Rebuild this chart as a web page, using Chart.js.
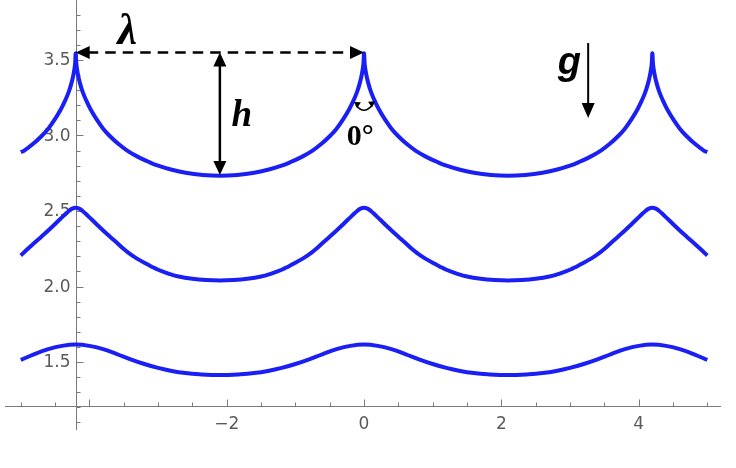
<!DOCTYPE html>
<html>
<head>
<meta charset="utf-8">
<script src="https://cdn.jsdelivr.net/npm/chart.js@4.4.1/dist/chart.umd.min.js"></script>
<style>
  html, body { margin: 0; padding: 0; background: #fff; }
  #wrap { width: 736px; height: 468px; }
</style>
</head>
<body>
<div id="wrap"><canvas id="waveChart" width="736" height="468"></canvas></div>
<script>
// wave profiles (x, surface height)
const topX = [-5.0, -4.95, -4.82, -4.7, -4.6, -4.5, -4.42, -4.35, -4.3, -4.26, -4.23, -4.21, -4.2,
  -4.19, -4.17, -4.14, -4.1, -4.05, -3.98, -3.9, -3.8, -3.7, -3.58, -3.45, -3.3, -3.15, -3.0, -2.8, -2.6, -2.35, -2.1,
  -1.85, -1.6, -1.4, -1.2, -1.05, -0.9, -0.75, -0.62, -0.5, -0.4, -0.3, -0.22, -0.15, -0.1, -0.06, -0.03, -0.01, 0,
  0.01, 0.03, 0.06, 0.1, 0.15, 0.22, 0.3, 0.4, 0.5, 0.62, 0.75, 0.9, 1.05, 1.2, 1.4, 1.6, 1.85, 2.1,
  2.35, 2.6, 2.8, 3.0, 3.15, 3.3, 3.45, 3.58, 3.7, 3.8, 3.9, 3.98, 4.05, 4.1, 4.14, 4.17, 4.19, 4.2,
  4.21, 4.23, 4.26, 4.3, 4.35, 4.42, 4.5, 4.6, 4.7, 4.82, 4.95, 5.0];
const topY = [2.89, 2.90, 2.945, 2.995, 3.045, 3.11, 3.17, 3.235, 3.29, 3.35, 3.41, 3.47, 3.545,
  3.47, 3.41, 3.35, 3.29, 3.235, 3.17, 3.11, 3.045, 2.995, 2.945, 2.90, 2.86, 2.828, 2.800, 2.773, 2.753, 2.739, 2.734,
  2.739, 2.753, 2.773, 2.800, 2.828, 2.86, 2.90, 2.945, 2.995, 3.045, 3.11, 3.17, 3.235, 3.29, 3.35, 3.41, 3.47, 3.545,
  3.47, 3.41, 3.35, 3.29, 3.235, 3.17, 3.11, 3.045, 2.995, 2.945, 2.90, 2.86, 2.828, 2.800, 2.773, 2.753, 2.739, 2.734,
  2.739, 2.753, 2.773, 2.800, 2.828, 2.86, 2.90, 2.945, 2.995, 3.045, 3.11, 3.17, 3.235, 3.29, 3.35, 3.41, 3.47, 3.545,
  3.47, 3.41, 3.35, 3.29, 3.235, 3.17, 3.11, 3.045, 2.995, 2.945, 2.90, 2.89];

const midX = [-5.0, -4.9, -4.8, -4.7, -4.6, -4.5, -4.4, -4.35, -4.3, -4.25, -4.2,
  -4.15, -4.1, -4.05, -4.0, -3.9, -3.8, -3.7, -3.6, -3.5, -3.4, -3.3, -3.2, -3.1, -3.0, -2.85, -2.7, -2.5, -2.3, -2.1,
  -1.9, -1.7, -1.5, -1.35, -1.2, -1.1, -1.0, -0.9, -0.8, -0.7, -0.6, -0.5, -0.4, -0.3, -0.2, -0.15, -0.1, -0.05, 0,
  0.05, 0.1, 0.15, 0.2, 0.3, 0.4, 0.5, 0.6, 0.7, 0.8, 0.9, 1.0, 1.1, 1.2, 1.35, 1.5, 1.7, 1.9, 2.1,
  2.3, 2.5, 2.7, 2.85, 3.0, 3.1, 3.2, 3.3, 3.4, 3.5, 3.6, 3.7, 3.8, 3.9, 4.0, 4.05, 4.1, 4.15, 4.2,
  4.25, 4.3, 4.35, 4.4, 4.5, 4.6, 4.7, 4.8, 4.9, 5.0];
const midY = [2.205, 2.248, 2.290, 2.330, 2.371, 2.414, 2.458, 2.48, 2.50, 2.516, 2.522,
  2.516, 2.50, 2.48, 2.458, 2.414, 2.371, 2.330, 2.290, 2.248, 2.212, 2.183, 2.157, 2.133, 2.111, 2.086, 2.066, 2.051, 2.043, 2.040,
  2.043, 2.051, 2.066, 2.086, 2.111, 2.133, 2.157, 2.183, 2.212, 2.248, 2.290, 2.330, 2.371, 2.414, 2.458, 2.48, 2.50, 2.516, 2.522,
  2.516, 2.50, 2.48, 2.458, 2.414, 2.371, 2.330, 2.290, 2.248, 2.212, 2.183, 2.157, 2.133, 2.111, 2.086, 2.066, 2.051, 2.043, 2.040,
  2.043, 2.051, 2.066, 2.086, 2.111, 2.133, 2.157, 2.183, 2.212, 2.248, 2.290, 2.330, 2.371, 2.414, 2.458, 2.48, 2.50, 2.516, 2.522,
  2.516, 2.50, 2.48, 2.458, 2.414, 2.371, 2.330, 2.290, 2.248, 2.205];

const lowX = [-5.0, -4.8, -4.6, -4.4, -4.2, -4.0, -3.8, -3.6, -3.4, -3.2, -3.0, -2.8, -2.6, -2.4, -2.1,
  -1.8, -1.6, -1.4, -1.2, -1.0, -0.8, -0.6, -0.4, -0.2, 0,
  0.2, 0.4, 0.6, 0.8, 1.0, 1.2, 1.4, 1.6, 1.8, 2.1,
  2.4, 2.6, 2.8, 3.0, 3.2, 3.4, 3.6, 3.8, 4.0, 4.2, 4.4, 4.6, 4.8, 5.0];
const lowY = [1.514, 1.553, 1.585, 1.607, 1.616, 1.607, 1.585, 1.553, 1.518, 1.487, 1.461, 1.441, 1.427, 1.419, 1.414,
  1.419, 1.427, 1.441, 1.461, 1.487, 1.518, 1.553, 1.585, 1.607, 1.616,
  1.607, 1.585, 1.553, 1.518, 1.487, 1.461, 1.441, 1.427, 1.419, 1.414,
  1.419, 1.427, 1.441, 1.461, 1.487, 1.518, 1.553, 1.585, 1.607, 1.616, 1.607, 1.585, 1.553, 1.514];

// axes
const xTickMajor = [-4, -2, 0, 2, 4];
const xTickLabels = ['', '\u22122', '0', '2', '4'];
const yTickMajor = [1.5, 2.0, 2.5, 3.0, 3.5];
const yTickLabels = ['1.5', '2.0', '2.5', '3.0', '3.5'];
const axisCross = { x: -4.2, y: 1.21 };

const toPts = (xs, ys) => xs.map((x, i) => ({ x: x, y: ys[i] }));

function arrowHead(ctx, tx, ty, ang, len, half) {
    ctx.beginPath();
    ctx.moveTo(tx, ty);
    ctx.lineTo(tx - len * Math.cos(ang) + half * Math.sin(ang), ty - len * Math.sin(ang) - half * Math.cos(ang));
    ctx.lineTo(tx - len * Math.cos(ang) - half * Math.sin(ang), ty - len * Math.sin(ang) + half * Math.cos(ang));
    ctx.closePath();
    ctx.fill();
}

const mmaAxes = {
    id: 'mmaAxes',
    beforeDatasetsDraw(chart) {
        const ctx = chart.ctx, xs = chart.scales.x, ys = chart.scales.y, area = chart.chartArea;
        const ax = Math.round(xs.getPixelForValue(axisCross.x)) + 0.5;
        const ay = Math.round(ys.getPixelForValue(axisCross.y)) + 0.5;
        ctx.save();
        ctx.strokeStyle = '#7a7a7a';
        ctx.lineWidth = 1;
        ctx.beginPath();
        ctx.moveTo(area.left, ay); ctx.lineTo(area.right, ay);
        ctx.moveTo(ax, area.top); ctx.lineTo(ax, area.bottom);
        ctx.stroke();
        // x ticks every 0.5
        ctx.beginPath();
        for (let k = -10; k <= 10; k++) {
            const v = k / 2;
            const px = Math.round(xs.getPixelForValue(v)) + 0.5;
            const len = xTickMajor.includes(v) ? 7 : 4;
            ctx.moveTo(px, ay); ctx.lineTo(px, ay - len);
        }
        // y ticks every 0.1
        for (let k = 11; k <= 38; k++) {
            const v = k / 10;
            const py = Math.round(ys.getPixelForValue(v)) + 0.5;
            const len = (k % 5 === 0) ? 7 : 4;
            ctx.moveTo(ax, py); ctx.lineTo(ax + len, py);
        }
        ctx.stroke();
        ctx.fillStyle = '#5a5a5a';
        ctx.font = '17px "DejaVu Sans", sans-serif';
        ctx.textAlign = 'center';
        ctx.textBaseline = 'top';
        xTickMajor.forEach((v, i) => {
            if (xTickLabels[i]) ctx.fillText(xTickLabels[i], xs.getPixelForValue(v), ay + 10);
        });
        ctx.textAlign = 'right';
        ctx.textBaseline = 'middle';
        yTickMajor.forEach((v, i) => {
            ctx.fillText(yTickLabels[i], ax - 6, ys.getPixelForValue(v) + 1);
        });
        ctx.restore();
    },
    afterDatasetsDraw(chart) {
        const ctx = chart.ctx, xs = chart.scales.x, ys = chart.scales.y;
        const X = v => xs.getPixelForValue(v), Y = v => ys.getPixelForValue(v);
        ctx.save();
        ctx.fillStyle = '#000';
        ctx.strokeStyle = '#000';

        // lambda: dashed, arrows at both ends
        const ly = Y(3.55), l0 = X(-4.2), l1 = X(0);
        ctx.lineWidth = 2.5;
        ctx.setLineDash([10.5, 7]);
        ctx.beginPath(); ctx.moveTo(l0 + 12, ly); ctx.lineTo(l1 - 12, ly); ctx.stroke();
        ctx.setLineDash([]);
        arrowHead(ctx, l0, ly, Math.PI, 14, 6.5);
        arrowHead(ctx, l1, ly, 0, 14, 6.5);

        // h: solid vertical double arrow
        const hx = X(-2.1), h0 = Y(3.55), h1 = Y(2.738);
        ctx.lineWidth = 2.5;
        ctx.beginPath(); ctx.moveTo(hx, h0 + 10); ctx.lineTo(hx, h1 - 10); ctx.stroke();
        arrowHead(ctx, hx, h0, -Math.PI / 2, 14, 6.5);
        arrowHead(ctx, hx, h1, Math.PI / 2, 14, 6.5);

        // g arrow
        const gx = X(3.265), g0 = Y(3.612), g1 = Y(3.116);
        ctx.lineWidth = 2;
        ctx.beginPath(); ctx.moveTo(gx, g0); ctx.lineTo(gx, g1 - 10); ctx.stroke();
        arrowHead(ctx, gx, g1, Math.PI / 2, 15, 6.5);

        // small angle arc at the cusp
        const a0x = X(-0.146), a0y = Y(3.222), a1x = X(0.16), a1y = Y(3.226);
        const cx = X(0.004), cy = Y(3.13);
        ctx.lineWidth = 1.6;
        ctx.beginPath(); ctx.moveTo(a0x + 2, a0y + 3); ctx.quadraticCurveTo(cx, cy, a1x - 2, a1y + 3); ctx.stroke();
        arrowHead(ctx, a0x, a0y, Math.atan2(a0y - cy, a0x - cx) - 0.35, 6, 3.5);
        arrowHead(ctx, a1x, a1y, Math.atan2(a1y - cy, a1x - cx) + 0.35, 6, 3.5);

        // labels
        ctx.textBaseline = 'alphabetic';
        ctx.textAlign = 'center';
        ctx.font = 'bold italic 44px "Liberation Serif", serif';
        ctx.fillText('\u03bb', X(-3.45), Y(3.605));
        ctx.textAlign = 'left';
        ctx.font = 'bold italic 37px "Liberation Serif", serif';
        ctx.fillText('h', X(-1.93), Y(3.063));
        ctx.font = 'bold 30px "Liberation Serif", serif';
        ctx.fillText('0\u00b0', X(-0.25), Y(2.937));
        ctx.textAlign = 'center';
        ctx.font = 'bold italic 38px "Liberation Sans", sans-serif';
        ctx.fillText('g', X(2.99), Y(3.407));
        ctx.restore();
    }
};

const lineStyle = {
    borderColor: '#1a1ff4',
    borderWidth: 4,
    pointRadius: 0,
    fill: false,
    tension: 0.4,
    cubicInterpolationMode: 'default',
    clip: false
};

new Chart(document.getElementById('waveChart'), {
    type: 'line',
    data: {
        datasets: [
            Object.assign({ label: 'top', data: toPts(topX, topY) }, lineStyle),
            Object.assign({ label: 'middle', data: toPts(midX, midY) }, lineStyle),
            Object.assign({ label: 'bottom', data: toPts(lowX, lowY) }, lineStyle)
        ]
    },
    options: {
        responsive: false,
        devicePixelRatio: 1,
        animation: false,
        layout: { padding: { left: 5, right: 15, top: 0, bottom: 38 } },
        plugins: { legend: { display: false }, tooltip: { enabled: false } },
        scales: {
            x: { type: 'linear', min: -5.23, max: 5.2, display: false },
            y: { type: 'linear', min: 1.05, max: 3.897, display: false }
        }
    },
    plugins: [mmaAxes]
});
</script>
</body>
</html>
